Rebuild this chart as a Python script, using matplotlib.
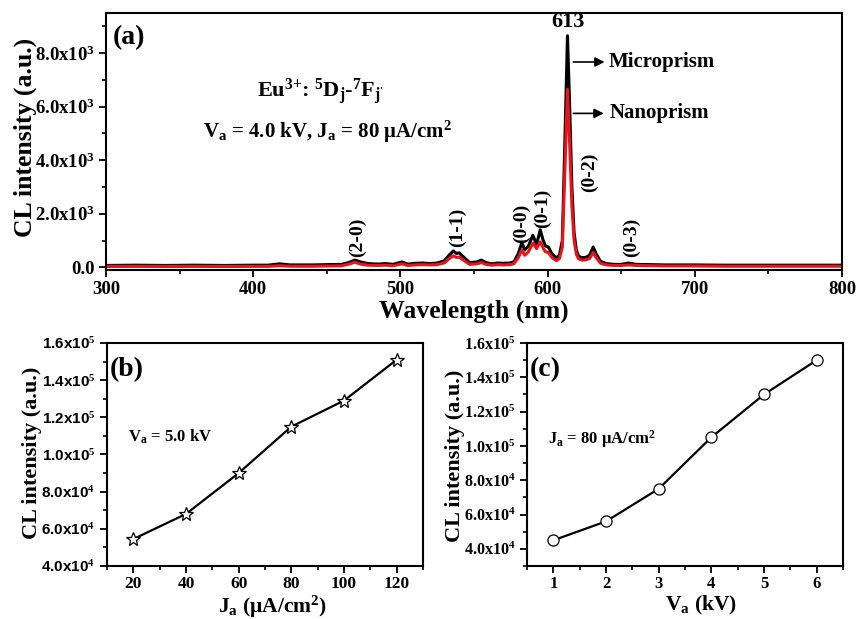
import matplotlib
matplotlib.use("Agg")
import matplotlib.pyplot as plt
from matplotlib.ticker import MultipleLocator

plt.rcParams['font.family'] = ['Liberation Serif', 'DejaVu Serif']
plt.rcParams['font.weight'] = 'bold'
plt.rcParams['mathtext.fontset'] = 'custom'
plt.rcParams['mathtext.rm'] = 'Liberation Serif:bold'
plt.rcParams['mathtext.it'] = 'Liberation Serif:bold'
plt.rcParams['mathtext.bf'] = 'Liberation Serif:bold'

# ---------------- data ----------------
# panel (a): CL spectra (wavelength nm, intensity a.u.)
wl_micro = [300, 320, 340, 360, 380, 400, 410, 418, 425, 440, 450, 460, 465, 469, 473,
            478, 485, 490, 495, 501, 505, 510, 515, 520, 525, 530, 533, 536, 538, 540,
            543, 547, 552, 555, 558, 562, 566, 570, 574, 577, 580, 582.5, 584.5, 587,
            590, 592.5, 595, 597, 598.5, 600.5, 603, 606, 608, 610, 611.5, 613.5, 615,
            616.5, 618, 619.5, 621, 623, 626, 628.5, 631, 633, 636, 640, 645, 650, 655,
            660, 670, 680, 700, 720, 750, 780, 800]
int_micro = [70, 80, 70, 80, 70, 80, 80, 130, 90, 90, 100, 110, 180, 270, 200,
             140, 120, 140, 110, 200, 120, 150, 160, 140, 160, 250, 450, 610, 520, 540,
             380, 180, 200, 270, 180, 130, 160, 150, 160, 200, 500, 920, 650, 800,
             1200, 850, 1400, 1000, 800, 760, 500, 350, 450, 1000, 4200, 8650, 6000,
             3000, 1300, 650, 420, 360, 370, 450, 760, 500, 220, 140, 110, 110, 160,
             110, 100, 90, 90, 80, 80, 80, 80]

wl_nano = wl_micro
int_nano = [30, 35, 30, 35, 30, 35, 35, 60, 40, 40, 50, 55, 120, 190, 120,
            80, 70, 80, 60, 130, 70, 90, 100, 90, 100, 170, 320, 430, 370, 380,
            260, 110, 130, 180, 110, 80, 100, 90, 100, 130, 350, 640, 450, 580,
            900, 700, 950, 720, 580, 560, 360, 250, 320, 750, 3200, 6650, 4600,
            2300, 1000, 500, 320, 270, 280, 330, 550, 360, 150, 90, 70, 70, 90,
            70, 60, 50, 50, 40, 40, 40, 40]

a_yticks = [0, 2000, 4000, 6000, 8000]
a_yticklabels = ['0.0', '2.0x10$^{3}$', '4.0x10$^{3}$', '6.0x10$^{3}$', '8.0x10$^{3}$']
a_xticks = [300, 400, 500, 600, 700, 800]

peak_labels = ['(2-0)', '(1-1)', '(0-0)', '(0-1)', '(0-2)', '(0-3)']
peak_label_x = [470.7, 538.8, 582.3, 596.6, 628.6, 657.0]
peak_label_y = [1120, 1500, 1650, 2200, 3550, 1120]

# panel (b): CL intensity vs current density at Va = 5.0 kV
ja = [20, 40, 60, 80, 100, 120]
cl_ja = [54500, 68000, 90000, 115000, 129000, 151000]
b_yticks = [40000, 60000, 80000, 100000, 120000, 140000, 160000]
b_yticklabels = ['4.0x10$^{4}$', '6.0x10$^{4}$', '8.0x10$^{4}$', '1.0x10$^{5}$',
                 '1.2x10$^{5}$', '1.4x10$^{5}$', '1.6x10$^{5}$']

# panel (c): CL intensity vs accelerating voltage at Ja = 80 uA/cm2
va = [1, 2, 3, 4, 5, 6]
cl_va = [45000, 56000, 75000, 105000, 130000, 150000]
c_yticks = b_yticks
c_yticklabels = b_yticklabels

# ---------------- figure ----------------
fig = plt.figure(figsize=(8.57, 6.19), dpi=100)

def style_axes(ax, lw=1.5):
    for s in ax.spines.values():
        s.set_linewidth(lw)
    ax.tick_params(which='major', direction='out', length=5, width=1.3)
    ax.tick_params(which='minor', direction='out', length=3, width=1.2)

# (a)
axa = fig.add_axes([106/857, 1-270/619, 736/857, 257/619])
axa.plot(wl_micro, int_micro, color='black', lw=2.2)
axa.plot(wl_nano, int_nano, color='#e8141c', lw=2.2)
axa.set_xlim(300, 800)
axa.set_ylim(-100, 9500)
axa.set_xticks(a_xticks)
axa.set_xticklabels([str(v) for v in a_xticks])
axa.xaxis.set_minor_locator(MultipleLocator(50))
axa.set_yticks(a_yticks)
axa.set_yticklabels(a_yticklabels)
axa.yaxis.set_minor_locator(MultipleLocator(1000))
style_axes(axa)
axa.tick_params(labelsize=13.5, pad=3)
axa.set_xlabel('Wavelength (nm)', fontsize=18.5, fontweight='bold')
axa.set_ylabel('CL intensity (a.u.)', fontsize=18.5, fontweight='bold')
axa.xaxis.set_label_coords(0.5, -0.115)
axa.yaxis.set_label_coords(-0.094, 0.517)
axa.text(0.0095, 0.953, '(a)', transform=axa.transAxes, fontsize=20,
         fontweight='bold', ha='left', va='top')
axa.text(445.6, 6360, 'Eu$^{3{+}}$: $^{5}$D$_{\\mathrm{j}}$-$^{7}$F$_{\\mathrm{j}\'}$', fontsize=16,
         ha='center', va='baseline')
axa.text(366, 4825, 'V$_{\\mathrm{a}}$ = 4.0 kV, J$_{\\mathrm{a}}$ = 80 \u03bcA/cm$^{2}$', fontsize=15,
         ha='left', va='baseline')
axa.text(614, 8780, '613', fontsize=16, ha='center', va='bottom')
for lab, x, y in zip(peak_labels, peak_label_x, peak_label_y):
    axa.text(x, y, lab, fontsize=14, rotation=90, ha='center', va='center')
axa.annotate('', xy=(640.6, 7670), xytext=(615.6, 7670),
             arrowprops=dict(arrowstyle='-|>', color='black', lw=1.2, mutation_scale=14))
axa.text(641.6, 7670, 'Microprism', fontsize=15, ha='left', va='center')
axa.annotate('', xy=(640.0, 5750), xytext=(615.6, 5750),
             arrowprops=dict(arrowstyle='-|>', color='black', lw=1.2, mutation_scale=14))
axa.text(642.2, 5750, 'Nanoprism', fontsize=15, ha='left', va='center')

# (b)
axb = fig.add_axes([107/857, 1-566/619, 316/857, 223/619])
axb.plot(ja, cl_ja, color='black', lw=1.6, marker='*', markersize=10,
         markerfacecolor='white', markeredgecolor='black', markeredgewidth=0.9)
axb.set_xlim(10, 130)
axb.set_ylim(40000, 160000)
axb.set_xticks(ja)
axb.set_xticklabels([str(v) for v in ja])
axb.xaxis.set_minor_locator(MultipleLocator(10))
axb.set_yticks(b_yticks)
axb.set_yticklabels(b_yticklabels, family=['Liberation Sans', 'DejaVu Sans'],
                    fontsize=11, fontweight='bold')
axb.yaxis.set_minor_locator(MultipleLocator(10000))
style_axes(axb)
axb.tick_params(axis='x', labelsize=12.5, pad=2)
axb.set_xlabel('J$_{\\mathrm{a}}$ (\u03bcA/cm$^{2}$)', fontsize=15.5, fontweight='bold')
axb.set_ylabel('CL intensity (a.u.)', fontsize=16, fontweight='bold')
axb.xaxis.set_label_coords(0.525, -0.125)
axb.yaxis.set_label_coords(-0.206, 0.507)
axb.text(0.01, 0.935, '(b)', transform=axb.transAxes, fontsize=20,
         fontweight='bold', ha='left', va='top')
axb.text(18, 106700, 'V$_{\\mathrm{a}}$ = 5.0 kV', fontsize=12, ha='left', va='baseline')

# (c)
axc = fig.add_axes([527/857, 1-566/619, 316/857, 223/619])
axc.plot(va, cl_va, color='black', lw=1.6, marker='o', markersize=8,
         markerfacecolor='white', markeredgecolor='black', markeredgewidth=0.9)
axc.set_xlim(0.5, 6.5)
axc.set_ylim(30000, 160000)
axc.set_xticks(va)
axc.set_xticklabels([str(v) for v in va])
axc.xaxis.set_minor_locator(MultipleLocator(0.5))
axc.set_yticks(c_yticks)
axc.set_yticklabels(c_yticklabels, fontsize=11.5)
axc.yaxis.set_minor_locator(MultipleLocator(10000))
style_axes(axc)
axc.tick_params(axis='x', labelsize=12, pad=2)
axc.set_xlabel('V$_{\\mathrm{a}}$ (kV)', fontsize=15.5, fontweight='bold')
axc.set_ylabel('CL intensity (a.u.)', fontsize=16, fontweight='bold')
axc.xaxis.set_label_coords(0.551, -0.125)
axc.yaxis.set_label_coords(-0.196, 0.493)
axc.text(0.01, 0.935, '(c)', transform=axc.transAxes, fontsize=20,
         fontweight='bold', ha='left', va='top')
axc.text(0.9, 101100, 'J$_{\\mathrm{a}}$ = 80 \u03bcA/cm$^{2}$', fontsize=12, ha='left', va='baseline')

fig.savefig('out.png', dpi=100)
